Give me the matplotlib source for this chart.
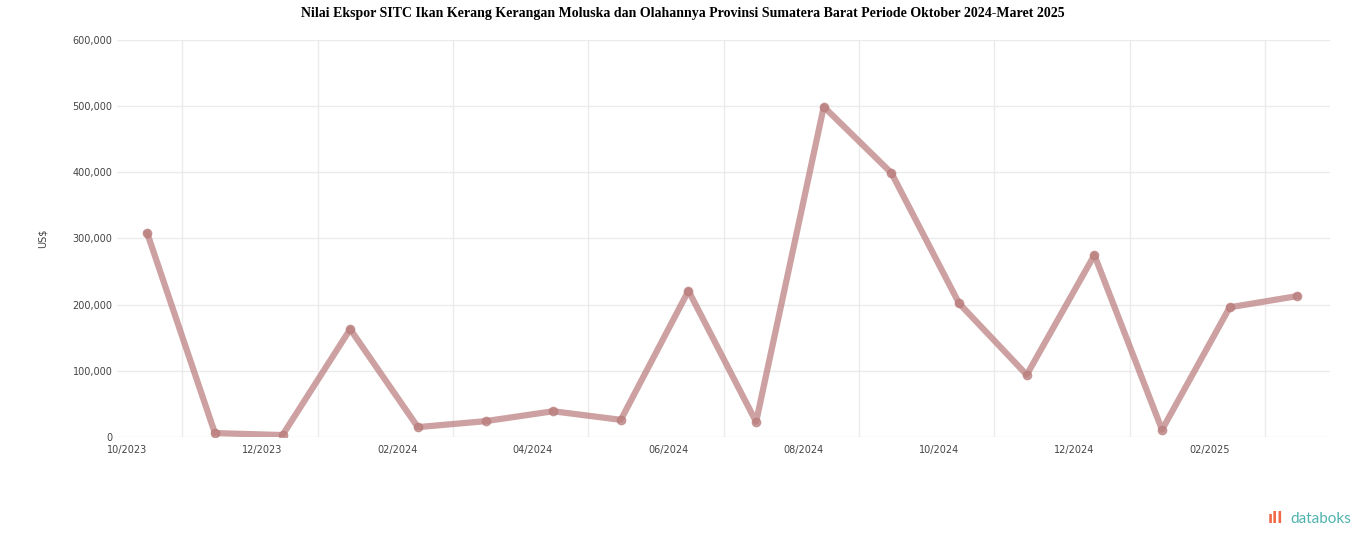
import matplotlib.pyplot as plt
from matplotlib.ticker import FuncFormatter, FixedLocator

months = ['10/2023', '11/2023', '12/2023', '01/2024', '02/2024', '03/2024',
          '04/2024', '05/2024', '06/2024', '07/2024', '08/2024', '09/2024',
          '10/2024', '11/2024', '12/2024', '01/2025', '02/2025', '03/2025']
values = [308000, 6000, 3000, 163000, 15000, 24000,
          39000, 26000, 221000, 23000, 499000, 399000,
          202000, 94000, 275000, 11000, 196000, 213000]
y_ticks = [0, 100000, 200000, 300000, 400000, 500000, 600000]

fig = plt.figure(figsize=(13.66, 5.47), dpi=100)
ax = fig.add_axes([0.086, 0.201, 0.888, 0.726])

x = list(range(len(months)))
ax.plot(x, values, color='#b87a7a', linewidth=4.5, alpha=0.7,
        marker='o', markersize=6, solid_joinstyle='round', zorder=3)

ax.set_xlim(-0.44, 17.49)
ax.set_ylim(0, 600000)

# labels every two months, gridlines between months
label_pos = [i - 0.3 for i in x[::2]]
ax.xaxis.set_major_locator(FixedLocator(label_pos))
ax.set_xticklabels(months[::2])
ax.xaxis.set_minor_locator(FixedLocator([i + 0.52 for i in x[::2]]))
ax.set_yticks(y_ticks)
ax.yaxis.set_major_formatter(FuncFormatter(lambda v, p: f'{int(v):,}'))

ax.grid(axis='y', which='major', color='#ebebeb', linewidth=1)
ax.grid(axis='x', which='minor', color='#ebebeb', linewidth=1)
ax.tick_params(axis='both', which='both', length=0, labelsize=7, colors='#444444')
ax.tick_params(axis='x', pad=6)
for s in ax.spines.values():
    s.set_visible(False)

ax.set_ylabel('US$', fontsize=7, color='#444444', labelpad=18)

fig.text(0.5, 0.975, 'Nilai Ekspor SITC Ikan Kerang Kerangan Moluska dan Olahannya Provinsi Sumatera Barat Periode Oktober 2024-Maret 2025',
         ha='center', va='center', fontsize=10, fontweight='bold', family='Liberation Serif')

fig.text(0.989, 0.052, 'databoks', ha='right', va='center', fontsize=11,
         color='#4fb3ae', family='Lato')
fig.text(0.939, 0.052, 'ıll', ha='right', va='center', fontsize=11,
         color='#f06a4a', fontweight='bold')

fig.savefig('out.png', dpi=100)
